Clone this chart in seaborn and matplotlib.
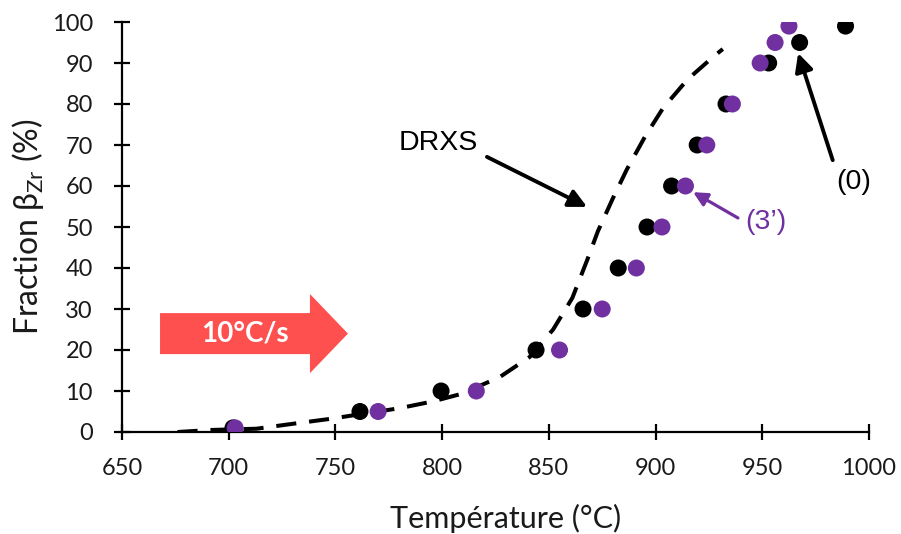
import matplotlib
matplotlib.use("Agg")
import matplotlib.pyplot as plt
import seaborn as sns
import pandas as pd
from matplotlib.patches import FancyArrow

# ---- data ----
temp_0 = [702, 761.5, 799.5, 844, 866, 882.5, 896, 907.5, 919.5, 933, 953, 967.5, 989]
frac_0 = [1, 5, 10, 20, 30, 40, 50, 60, 70, 80, 90, 95, 99]
temp_3 = [703, 770, 816, 855, 875, 891, 903, 914, 924, 936, 949, 956, 962.5]
frac_3 = [1, 5, 10, 20, 30, 40, 50, 60, 70, 80, 90, 95, 99]
drxs_t = [676, 692, 713, 730, 747.5, 780, 796, 809, 827, 841, 852, 861, 868, 873,
          880, 886.5, 895, 903.5, 915, 927, 931.5]
drxs_f = [0, 0.5, 0.8, 2, 3.2, 5.8, 7.5, 9.3, 13.4, 18.3, 25, 32.7, 42, 49,
          57, 64, 72, 79, 86, 91.5, 93.4]
xticks = [650, 700, 750, 800, 850, 900, 950, 1000]
yticks = [0, 10, 20, 30, 40, 50, 60, 70, 80, 90, 100]

PURPLE = "#7030A0"
RED = "#FF5050"
TXT = "#1a1a1a"

sns.set_theme(style="ticks")
plt.rcParams["font.family"] = ["Lato", "DejaVu Sans"]

fig = plt.figure(figsize=(9.01, 5.34), dpi=100)
ax = fig.add_axes([122 / 901, 1 - 432 / 534, 747 / 901, 410 / 534])

df_c = pd.DataFrame({"T": drxs_t, "F": drxs_f})
sns.lineplot(data=df_c, x="T", y="F", ax=ax, color="black", lw=2.9,
             linestyle=(0, (5, 3.2)), sort=False, zorder=2)

df0 = pd.DataFrame({"T": temp_0, "F": frac_0})
df3 = pd.DataFrame({"T": temp_3, "F": frac_3})
sns.scatterplot(data=df0, x="T", y="F", ax=ax, color="black", s=150,
                edgecolor="none", zorder=3)
sns.scatterplot(data=df3, x="T", y="F", ax=ax, color=PURPLE, s=150,
                edgecolor="none", zorder=4)

ax.set_xlim(650, 1000)
ax.set_ylim(0, 100)
ax.set_xticks(xticks)
ax.set_yticks(yticks)
ax.tick_params(direction="inout", length=12, width=1.6, labelsize=17,
               color="black", labelcolor=TXT)
ax.tick_params(axis="y", pad=15)
ax.tick_params(axis="x", pad=12.5)
for s in ["top", "right"]:
    ax.spines[s].set_visible(False)
for s in ["left", "bottom"]:
    ax.spines[s].set_linewidth(1.6)
    ax.spines[s].set_color("black")
ax.set_xlabel("Température (°C)", fontsize=22, color=TXT)
ax.set_ylabel("Fraction β$_\\mathregular{Zr}$ (%)", fontsize=23, color=TXT)
ax.xaxis.set_label_coords(0.513, -0.176)
ax.yaxis.set_label_coords(-0.102, 0.5)

# annotations
ann_font = ["Liberation Sans", "DejaVu Sans"]
ax.text(798, 70.5, "DRXS", fontsize=20.5, family=ann_font, ha="center",
        va="center", color="black")
ax.text(992.7, 61, "(0)", fontsize=20.5, family=ann_font, ha="center",
        va="center", color="black")
ax.text(951.8, 51.2, "(3’)", fontsize=20.5, family=ann_font, ha="center",
        va="center", color=PURPLE)
big_head = "-|>,head_length=0.9,head_width=0.45"
ax.annotate("", xy=(867.9, 54.9), xytext=(821, 67.1),
            arrowprops=dict(arrowstyle=big_head, color="black", lw=2.8,
                            shrinkA=0, shrinkB=0))
ax.annotate("", xy=(966.8, 92.4), xytext=(983, 66.3),
            arrowprops=dict(arrowstyle=big_head, color="black", lw=2.8,
                            shrinkA=0, shrinkB=0))
ax.annotate("", xy=(917.6, 58.5), xytext=(938.6, 52.2),
            arrowprops=dict(arrowstyle="-|>,head_length=0.7,head_width=0.35",
                            color=PURPLE, lw=2.3, shrinkA=0, shrinkB=0))

# red rate arrow
arr = FancyArrow(0.0509, 0.240, 0.2516, 0, width=0.100, head_width=0.193,
                 head_length=0.0509, length_includes_head=True,
                 transform=ax.transAxes, color=RED, lw=0, zorder=1)
ax.add_patch(arr)
ax.text(0.165, 0.240, "10°C/s", transform=ax.transAxes, color="white",
        fontsize=20, fontweight="bold", ha="center", va="center", zorder=2)

fig.savefig("out.png", dpi=100)
